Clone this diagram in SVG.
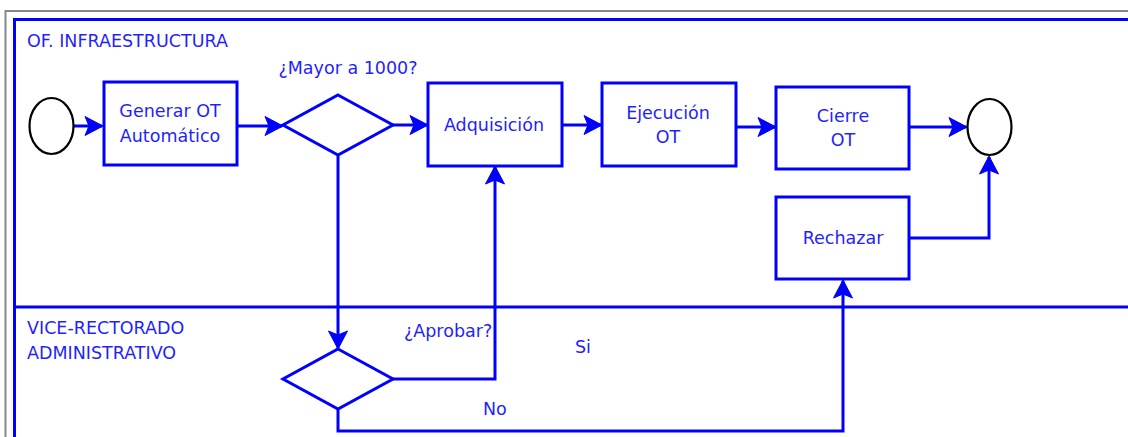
<svg xmlns="http://www.w3.org/2000/svg" width="1128" height="437" viewBox="0 0 1128 437">
<style>
.bx{fill:#fff;stroke:#0000ff;stroke-width:3}
.ev{fill:#fff;stroke:#000;stroke-width:2.2}
.ln{fill:none;stroke:#0000ff;stroke-width:3}
.t{font-family:"DejaVu Sans",sans-serif;font-size:17.5px;fill:#1f1fff}
.c{text-anchor:middle}
</style>
<defs>
<marker id="ah" markerUnits="userSpaceOnUse" markerWidth="22" markerHeight="22" viewBox="-20 -11 22 22" refX="0" refY="0" orient="auto">
<path d="M1,0 L-17,-9.5 L-13,0 L-17,9.5 Z" fill="#0000ff" stroke="#0000ff" stroke-width="1" stroke-linejoin="miter"/>
</marker>
</defs>
<rect width="1128" height="437" fill="#fff"/>
<g id="frame">
<path d="M5.5,437 V11 H1128" fill="none" stroke="#888" stroke-width="2"/>
<path d="M14.5,437 V19.5 H1128" fill="none" stroke="#0000ff" stroke-width="3"/>
<path d="M14.5,307 H1128" fill="none" stroke="#0000ff" stroke-width="3"/>
</g>
<g id="lanes">
<text class="t" x="27" y="47">OF. INFRAESTRUCTURA</text>
<text class="t" x="27" y="334">VICE-RECTORADO</text>
<text class="t" x="27" y="359">ADMINISTRATIVO</text>
</g>
<g id="connectors">
<path class="ln" marker-end="url(#ah)" d="M74,126 H102"/>
<path class="ln" marker-end="url(#ah)" d="M237,126 H282"/>
<path class="ln" marker-end="url(#ah)" d="M393,125 H427"/>
<path class="ln" marker-end="url(#ah)" d="M562,125 H601"/>
<path class="ln" marker-end="url(#ah)" d="M736,127 H775"/>
<path class="ln" marker-end="url(#ah)" d="M909,127 H966"/>
<path class="ln" marker-end="url(#ah)" d="M338,155 V348"/>
<path class="ln" marker-end="url(#ah)" d="M393,379 H495 V167"/>
<path class="ln" marker-end="url(#ah)" d="M338,409 V431 H843 V281"/>
<path class="ln" marker-end="url(#ah)" d="M909,238 H989 V157"/>
</g>
<g id="start"><ellipse class="ev" cx="51.5" cy="126" rx="22" ry="28"/></g>
<g id="generar">
<rect class="bx" x="104" y="82" width="133" height="83"/>
<text class="t c" x="170" y="117">Generar OT</text>
<text class="t c" x="170" y="142">Automático</text>
</g>
<g id="mayor">
<path class="bx" d="M338,95 L393,125 L338,155 L283,125 Z"/>
<text class="t c" x="348" y="74">¿Mayor a 1000?</text>
</g>
<g id="adquisicion">
<rect class="bx" x="428" y="83" width="134" height="83"/>
<text class="t c" x="494" y="131">Adquisición</text>
</g>
<g id="ejecucion">
<rect class="bx" x="602" y="83" width="134" height="83"/>
<text class="t c" x="668" y="119">Ejecución</text>
<text class="t c" x="668" y="143">OT</text>
</g>
<g id="cierre">
<rect class="bx" x="776" y="87" width="133" height="82"/>
<text class="t c" x="843" y="122">Cierre</text>
<text class="t c" x="843" y="146">OT</text>
</g>
<g id="end"><ellipse class="ev" cx="989.5" cy="127" rx="22" ry="28"/></g>
<g id="rechazar">
<rect class="bx" x="776" y="197" width="133" height="82"/>
<text class="t c" x="843" y="244">Rechazar</text>
</g>
<g id="aprobar">
<path class="bx" d="M338,349 L393,379 L338,409 L283,379 Z"/>
<text class="t" x="404" y="337">¿Aprobar?</text>
</g>
<g id="labels">
<text class="t" x="575" y="353">Si</text>
<text class="t" x="483" y="415">No</text>
</g>
</svg>
